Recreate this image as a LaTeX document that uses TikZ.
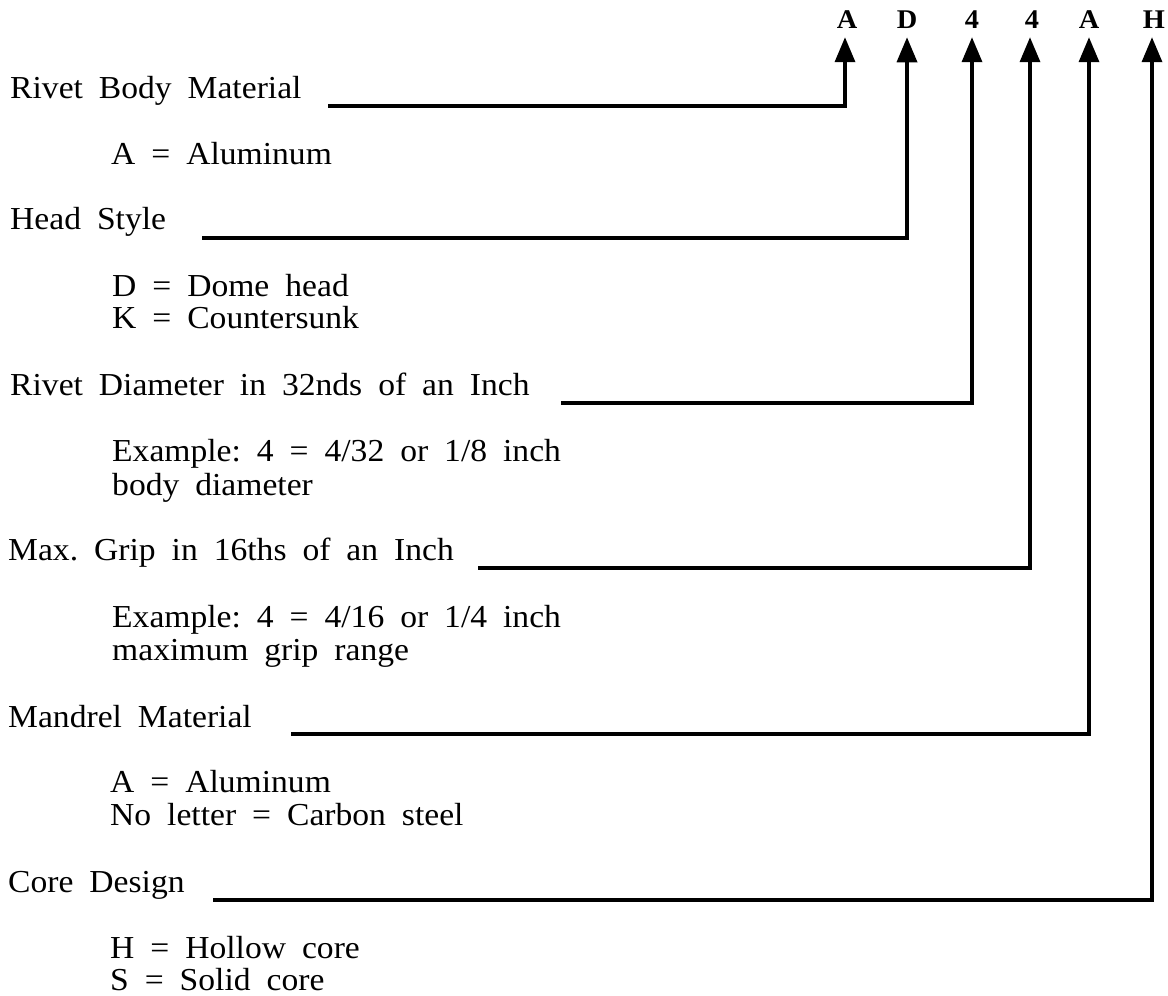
\documentclass[tikz,border=0pt]{standalone}
\usepackage{fontspec}
\setmainfont{Liberation Serif}[FakeStretch=1.05,WordSpace=1.9]
\usepackage{tikz}
\usetikzlibrary{arrows.meta}
\frenchspacing
\begin{document}
\begin{tikzpicture}[x=1pt,y=-1pt,
  lbl/.style={anchor=base west,inner sep=0pt,font=\fontsize{32}{34}\selectfont},
  code/.style={anchor=base,inner sep=0pt,font=\fontsize{27}{27}\selectfont\bfseries},
  lead/.style={line width=3.5pt,-{Triangle[length=25pt,width=20pt]}}]
  \useasboundingbox (0,0) rectangle (1168,996);
  \node[code] (cA) at (847,28) {A}; \node[code] (cD) at (907,28) {D}; \node[code] (c4a) at (972,28) {4};
  \node[code] (c4b) at (1032,28) {4}; \node[code] (cM) at (1089,28) {A}; \node[code] (cH) at (1154,28) {H};
  \node[lbl] (lRivet) at (10,98) {Rivet Body Material}; \node[lbl] (vRivet) at (111,164) {A = Aluminum};
  \node[lbl] (lHead) at (10,229) {Head Style}; \node[lbl] (vHeadD) at (112,296) {D = Dome head}; \node[lbl] (vHeadK) at (112,328) {K = Countersunk};
  \node[lbl] (lDiam) at (10,395) {Rivet Diameter in 32nds of an Inch};
  \node[lbl] (vDiam) at (112,461) {Example: 4 = 4/32 or 1/8 inch}; \node[lbl] (vDiamB) at (112,495) {body diameter};
  \node[lbl] (lGrip) at (8,560) {Max. Grip in 16ths of an Inch};
  \node[lbl] (vGrip) at (112,627) {Example: 4 = 4/16 or 1/4 inch}; \node[lbl] (vGripB) at (112,660) {maximum grip range};
  \node[lbl] (lMand) at (8,727) {Mandrel Material}; \node[lbl] (vMandA) at (110,792) {A = Aluminum}; \node[lbl] (vMandN) at (110,825) {No letter = Carbon steel};
  \node[lbl] (lCore) at (8,892) {Core Design}; \node[lbl] (vCoreH) at (110,958) {H = Hollow core}; \node[lbl] (vCoreS) at (110,990) {S = Solid core};
  \coordinate (sRivet) at (328,106); \coordinate (sHead) at (202,238); \coordinate (sDiam) at (561,403);
  \coordinate (sGrip) at (478,568); \coordinate (sMand) at (291,734); \coordinate (sCore) at (213,900);
  \draw[lead] (sRivet) -| ([xshift=-2pt,yshift=-9pt]cA.south); \draw[lead] (sHead) -| ([yshift=-9pt]cD.south);
  \draw[lead] (sDiam) -| ([yshift=-9pt]c4a.south); \draw[lead] (sGrip) -| ([xshift=-2pt,yshift=-9pt]c4b.south);
  \draw[lead] (sMand) -| ([yshift=-9pt]cM.south); \draw[lead] (sCore) -| ([xshift=-2pt,yshift=-9pt]cH.south);
\end{tikzpicture}
\end{document}
